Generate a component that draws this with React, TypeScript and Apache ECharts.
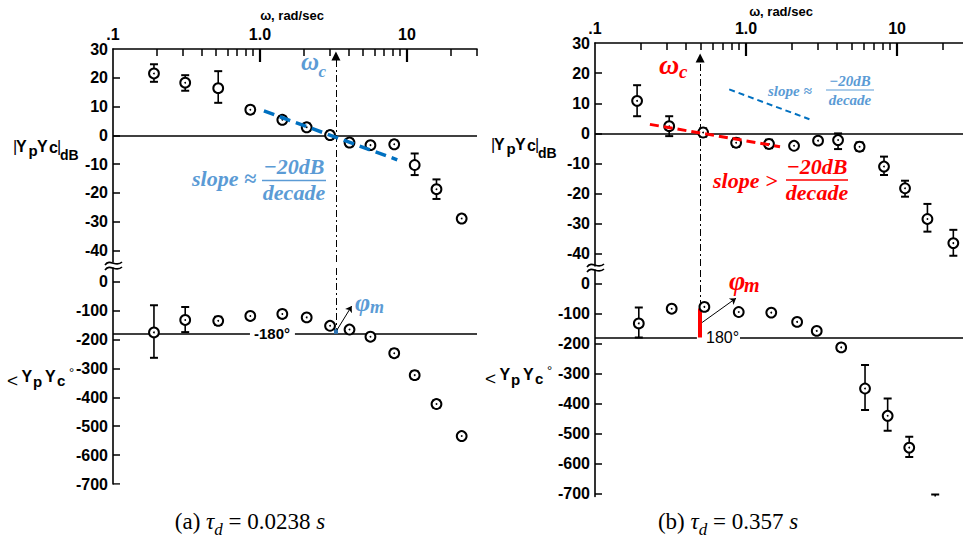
import React, { useEffect, useRef } from 'react';
import * as echarts from 'echarts';

// ---------------- data ----------------
// frequencies in rad/sec
const freq = [0.19, 0.31, 0.52, 0.86, 1.42, 2.08, 3.0, 4.07, 5.65, 8.2, 11.3, 15.9, 23.6];

// (a) tau_d = 0.0238 s
const magA = [21.5, 18.3, 16.4, 8.9, 5.4, 2.8, 0.1, -2.5, -3.4, -3.1, -10.3, -18.7, -28.9];
const magALo = [18.6, 15.5, 11.3, 7.6, 4.2, 1.5, -1.2, -3.8, -3.4, -4.4, -13.8, -22.1, -30.2];
const magAHi = [24.7, 20.9, 22.3, 10.2, 6.6, 4.1, 1.4, -1.2, -3.4, -1.8, -6.3, -15.3, -27.6];
const phaseA = [-175, -132, -135, -118, -111, -123, -152, -165, -190, -247, -323, -423, -534];
const phaseALo = [-263, -174, -149, -118, -123, -123, -152, -165, -190, -260, -336, -436, -534];
const phaseAHi = [-81, -87, -121, -118, -99, -123, -152, -165, -190, -234, -310, -410, -534];

// (b) tau_d = 0.357 s
const magB = [10.8, 2.4, 0.3, -3.1, -3.5, -4.1, -2.4, -2.2, -4.4, -11.0, -18.2, -28.4, -36.4];
const magBLo = [5.7, -0.9, -1.1, -4.5, -4.9, -4.1, -2.4, -5.2, -5.8, -13.8, -21.0, -32.6, -40.6];
const magBHi = [16.0, 5.7, 1.7, -1.7, -2.1, -4.1, -2.4, 0.0, -3.0, -7.7, -15.7, -23.4, -32.0];
const freqPhaseB = [0.195, 0.322, 0.53, 0.895, 1.47, 2.18, 2.94, 4.27, 6.14, 8.67, 12.05, 17.9];
const phaseB = [-133, -84, -78, -95, -97, -128, -158, -213, -350, -441, -547, -780];
const phaseBLo = [-180, -95, -89, -95, -97, -128, -158, -224, -422, -491, -578, -850];
const phaseBHi = [-80, -73, -67, -95, -97, -128, -158, -202, -272, -383, -511, -703];

// axes
const magTicks = [30, 20, 10, 0, -10, -20, -30, -40];
const phaseTicks = [0, -100, -200, -300, -400, -500, -600, -700];
const freqLabelValues = [0.1, 1, 10];
const freqLabels = ['.1', '1.0', '10'];
const freqMajor = [1, 10];
const freqMinor = [0.2, 0.3, 0.4, 0.5, 0.6, 0.7, 0.8, 0.9, 2, 3, 4, 5, 6, 7, 8, 9, 20, 30];

// annotations (data coordinates)
const omegaCA = 3.29;
const omegaCB = 0.497;
const slopeAFreq = [1.064, 8.6];
const slopeAMag = [8.5, -8.5];
const slopeBBlueFreq = [0.774, 2.63];
const slopeBBlueMag = [14.6, 4.7];
const slopeBRedFreq = [0.231, 1.68];
const slopeBRedMag = [3.0, -4.4];
const marginA = [-180, -162];
const marginB = [-180, -83];
const phiArrowAFreq = [3.34, 4.21];
const phiArrowAPhase = [-167, -84];
const phiArrowBFreq = [0.512, 0.859];
const phiArrowBPhase = [-130, -49];
const gapAFreq = [0.855, 1.73];
const gapBFreq = [0.473, 0.912];

// ---------------- helpers ----------------
const L = (v: number) => Math.log10(v);
const SANS = '"Liberation Sans", Arial, Helvetica, sans-serif';
const SERIF = '"Liberation Serif", "Times New Roman", serif';
const BLUE_TXT = '#5B9BD5';
const BLUE_LINE = '#0070C0';
const RED = '#FF0000';

const renderPoint = (params: any, api: any) => {
  const x = api.value(0);
  const y = api.value(1);
  const lo = api.value(2);
  const hi = api.value(3);
  const c = api.coord([x, y]);
  const cl = api.coord([x, lo]);
  const ch = api.coord([x, hi]);
  const children: any[] = [];
  if (Math.abs(cl[1] - ch[1]) > 0.5) {
    children.push({ type: 'line', shape: { x1: c[0], y1: ch[1], x2: c[0], y2: cl[1] }, style: { stroke: '#000', lineWidth: 1.6 } });
    children.push({ type: 'line', shape: { x1: c[0] - 4, y1: ch[1], x2: c[0] + 4, y2: ch[1] }, style: { stroke: '#000', lineWidth: 2 } });
    children.push({ type: 'line', shape: { x1: c[0] - 4, y1: cl[1], x2: c[0] + 4, y2: cl[1] }, style: { stroke: '#000', lineWidth: 2 } });
  }
  children.push({ type: 'circle', shape: { cx: c[0], cy: c[1], r: 4.9 }, style: { fill: '#fff', stroke: '#000', lineWidth: 2 } });
  children.push({ type: 'circle', shape: { cx: c[0], cy: c[1], r: 0.9 }, style: { fill: '#000' } });
  return { type: 'group', children };
};

const lineSeries = (idx: number, data: any[], lineStyle: any, symbol: any = ['none', 'none'], symbolSize: any = 8, z = 5) => ({
  type: 'lines',
  coordinateSystem: 'cartesian2d',
  xAxisIndex: idx,
  yAxisIndex: idx,
  polyline: false,
  silent: true,
  z,
  symbol,
  symbolSize,
  effect: { show: false },
  lineStyle: { opacity: 1, curveness: 0, ...lineStyle },
  data,
});
const seg = (fa: number, ya: number, fb: number, yb: number) => ({ coords: [[L(fa), ya], [L(fb), yb]] });

const pointSeries = (idx: number, f: number[], v: number[], lo: number[], hi: number[]) => ({
  type: 'custom',
  coordinateSystem: 'cartesian2d',
  xAxisIndex: idx,
  yAxisIndex: idx,
  clip: true,
  silent: true,
  z: 20,
  renderItem: renderPoint,
  encode: { x: 0, y: 1 },
  data: f.map((w, i) => [L(w), v[i], lo[i], hi[i]]),
});

interface PanelCfg {
  left: number;
  width: number;
  magTop: number;
  magHeight: number;
  magMin: number;
  magMax: number;
  phaseTop: number;
  phaseHeight: number;
  phaseMax: number;
  phaseMin: number;
  freqMax: number;
}

const axisFontLabel = { color: '#000', fontFamily: SANS, fontWeight: 'bold' as const, fontSize: 16 };

function buildPanel(p: PanelCfg, gi: number) {
  const xmax = L(p.freqMax);
  const grids = [
    { left: p.left, top: p.magTop, width: p.width, height: p.magHeight },
    { left: p.left, top: p.magTop, width: p.width, height: p.magHeight },
    { left: p.left, top: p.phaseTop, width: p.width, height: p.phaseHeight },
  ];
  const xAxes = [
    {
      gridIndex: gi, type: 'value', position: 'top', min: -1, max: xmax,
      axisLine: { show: true, onZero: false, lineStyle: { color: '#000', width: 1.6 } },
      axisTick: { show: false },
      axisLabel: { show: false }, splitLine: { show: false },
    },
    {
      gridIndex: gi + 1, type: 'value', position: 'top', min: -1, max: xmax,
      axisLine: { show: false, onZero: false },
      axisTick: { show: false },
      axisLabel: {
        show: true, customValues: freqLabelValues.map(L), margin: 7, ...axisFontLabel,
        formatter: (v: number) => {
          const i = freqLabelValues.findIndex((f) => Math.abs(L(f) - v) < 1e-6);
          return i >= 0 ? freqLabels[i] : '';
        },
      },
      splitLine: { show: false },
    },
    { gridIndex: gi + 2, type: 'value', min: -1, max: xmax, show: false },
  ];
  const yAxes = [
    {
      gridIndex: gi, type: 'value', min: p.magMin, max: p.magMax,
      axisLine: { show: true, onZero: false, lineStyle: { color: '#000', width: 1.6 } },
      axisTick: { show: false },
      axisLabel: { show: true, customValues: magTicks, margin: 5, ...axisFontLabel },
      splitLine: { show: false },
    },
    { gridIndex: gi + 1, type: 'value', min: p.magMin, max: p.magMax, show: false },
    {
      gridIndex: gi + 2, type: 'value', min: p.phaseMin, max: p.phaseMax,
      axisLine: { show: true, onZero: false, lineStyle: { color: '#000', width: 1.6 } },
      axisTick: { show: false },
      axisLabel: { show: true, customValues: phaseTicks, margin: 5, ...axisFontLabel },
      splitLine: { show: false },
    },
  ];

  // inside tick marks, placed through the axes' own scales
  const pxPerDecade = p.width / (xmax + 1);
  const pxPerDb = p.magHeight / (p.magMax - p.magMin);
  const yTickEnd = Math.pow(10, -1 + 7 / pxPerDecade);
  const tickSeries = [
    lineSeries(gi, freqMinor.filter((f) => f <= p.freqMax + 1e-9).map((f) => seg(f, p.magMax, f, p.magMax - 7 / pxPerDb)), { color: '#000', width: 1.5 }, ['none', 'none'], 8, 30),
    lineSeries(gi, freqMajor.map((f) => seg(f, p.magMax, f, p.magMax - 13 / pxPerDb)), { color: '#000', width: 2.2 }, ['none', 'none'], 8, 30),
    lineSeries(gi, magTicks.filter((v) => v < p.magMax).map((v) => seg(0.1, v, yTickEnd, v)), { color: '#000', width: 1.6 }, ['none', 'none'], 8, 30),
    lineSeries(gi + 2, phaseTicks.map((v) => seg(0.1, v, yTickEnd, v)), { color: '#000', width: 1.6 }, ['none', 'none'], 8, 30),
  ];
  return { grids, xAxes, yAxes, tickSeries };
}

const panelA: PanelCfg = { left: 113, width: 364, magTop: 49, magHeight: 213, magMin: -44, magMax: 30, phaseTop: 268, phaseHeight: 216, phaseMax: 48, phaseMin: -700, freqMax: 30 };
const panelB: PanelCfg = { left: 595, width: 368, magTop: 43, magHeight: 223, magMin: -44, magMax: 30, phaseTop: 270, phaseHeight: 226.5, phaseMax: 45, phaseMin: -710, freqMax: 27.35 };

type TOpt = { size: number; weight?: string; style?: string; family?: string; color?: string; align?: string };
const txt = (text: string, x: number, y: number, o: TOpt) => ({
  type: 'text', x, y, z: 100, silent: true,
  style: {
    text,
    fill: o.color || '#000',
    font: `${o.style || 'normal'} ${o.weight || 'normal'} ${o.size}px ${o.family || SANS}`,
    align: o.align || 'left', verticalAlign: 'middle',
    textAlign: o.align || 'left', textVerticalAlign: 'middle',
  },
});
const hline = (x1: number, x2: number, y: number, color: string, w = 1.5) => ({
  type: 'line', z: 100, silent: true, shape: { x1, y1: y, x2, y2: y }, style: { stroke: color, lineWidth: w },
});
const wave = (x: number, y: number) => ({
  type: 'bezierCurve', z: 100, silent: true,
  shape: { x1: x - 8, y1: y + 2, cpx1: x - 3, cpy1: y - 5, cpx2: x + 3, cpy2: y + 5, x2: x + 9, y2: y - 1 },
  style: { stroke: '#000', lineWidth: 1.6, fill: 'none' },
});

function titleGraphics(ox: number, dy: number) {
  const b = { weight: 'bold', family: SANS };
  return [
    txt('|', ox + 13, dy + 146, { size: 16 }),
    txt('Y', ox + 16, dy + 146, { size: 16, ...b }),
    txt('p', ox + 28.5, dy + 150, { size: 15, ...b }),
    txt('Y', ox + 37, dy + 146, { size: 16, ...b }),
    txt('c', ox + 49, dy + 147, { size: 16, ...b }),
    txt('|', ox + 57, dy + 146, { size: 16 }),
    txt('dB', ox + 60, dy + 155, { size: 14, ...b }),
    txt('<', ox + 7, dy + 380, { size: 19 }),
    txt('Y', ox + 21.5, dy + 376, { size: 16, ...b }),
    txt('p', ox + 33, dy + 381, { size: 15, ...b }),
    txt('Y', ox + 45, dy + 376, { size: 16, ...b }),
    txt('c', ox + 57, dy + 380, { size: 15, ...b }),
    txt('°', ox + 69, dy + 372, { size: 13 }),
  ];
}

const caption = (label: string, value: string, x: number, y: number) => ({
  type: 'text', x, y, z: 100, silent: true,
  style: {
    text: `{n|${label} }{i|τ}{s|d}{n| = ${value} }{i|s}`,
    align: 'center', verticalAlign: 'middle', textAlign: 'center', textVerticalAlign: 'middle',
    fill: '#000',
    rich: {
      n: { fontFamily: SERIF, fontSize: 23, fill: '#000', verticalAlign: 'top' },
      i: { fontFamily: SERIF, fontSize: 23, fontStyle: 'italic', fill: '#000', verticalAlign: 'top' },
      s: { fontFamily: SERIF, fontSize: 17, fontStyle: 'italic', fill: '#000', verticalAlign: 'top', padding: [11, 0, 0, 0] },
    },
  },
});

export default function App() {
  const ref = useRef<HTMLDivElement>(null);
  useEffect(() => {
    if (!ref.current) return;
    const chart = echarts.init(ref.current, null, { renderer: 'svg' });
    const A = buildPanel(panelA, 0);
    const B = buildPanel(panelB, 3);
    const dashDot = [7, 3, 2, 3];

    const series: any[] = [
      ...A.tickSeries,
      ...B.tickSeries,
      // ---- panel (a) ----
      lineSeries(0, [seg(0.1, 0, panelA.freqMax, 0)], { color: '#000', width: 1.6 }),
      lineSeries(0, [seg(slopeAFreq[0], slopeAMag[0], slopeAFreq[1], slopeAMag[1])], { color: BLUE_LINE, width: 3.5, type: [11, 6] }, ['none', 'none'], 8, 25),
      lineSeries(0, [seg(omegaCA, -44, omegaCA, 27.6)], { color: '#000', width: 1, type: dashDot }, ['none', 'triangle'], 9),
      lineSeries(2, [seg(omegaCA, 48, omegaCA, -178)], { color: '#000', width: 1, type: dashDot }),
      lineSeries(2, [seg(0.1, -180, gapAFreq[0], -180), seg(gapAFreq[1], -180, panelA.freqMax, -180)], { color: '#000', width: 1.5 }),
      lineSeries(2, [seg(omegaCA, marginA[0], omegaCA, marginA[1])], { color: '#2E75B6', width: 4 }, ['none', 'none'], 8, 15),
      lineSeries(2, [seg(phiArrowAFreq[0], phiArrowAPhase[0], phiArrowAFreq[1], phiArrowAPhase[1])], { color: '#000', width: 1 }, ['none', 'arrow'], 6, 25),
      pointSeries(0, freq, magA, magALo, magAHi),
      pointSeries(2, freq, phaseA, phaseALo, phaseAHi),
      // ---- panel (b) ----
      lineSeries(3, [seg(0.1, 0, panelB.freqMax, 0)], { color: '#000', width: 1.6 }),
      lineSeries(3, [seg(slopeBBlueFreq[0], slopeBBlueMag[0], slopeBBlueFreq[1], slopeBBlueMag[1])], { color: BLUE_LINE, width: 2, type: [6, 4] }),
      lineSeries(3, [seg(slopeBRedFreq[0], slopeBRedMag[0], slopeBRedFreq[1], slopeBRedMag[1])], { color: RED, width: 3, type: [9, 5] }, ['none', 'none'], 8, 25),
      lineSeries(3, [seg(omegaCB, -44, omegaCB, 25)], { color: '#000', width: 1, type: dashDot }, ['none', 'triangle'], 9),
      lineSeries(5, [seg(omegaCB, 45, omegaCB, -180)], { color: '#000', width: 1, type: dashDot }),
      lineSeries(5, [seg(0.1, -180, gapBFreq[0], -180), seg(gapBFreq[1], -180, panelB.freqMax, -180)], { color: '#000', width: 1.5 }),
      lineSeries(5, [seg(omegaCB, marginB[0], omegaCB, marginB[1])], { color: RED, width: 4 }, ['none', 'none'], 8, 15),
      lineSeries(5, [seg(phiArrowBFreq[0], phiArrowBPhase[0], phiArrowBFreq[1], phiArrowBPhase[1])], { color: '#000', width: 1 }, ['none', 'arrow'], 6, 25),
      pointSeries(3, freq, magB, magBLo, magBHi),
      pointSeries(5, freqPhaseB, phaseB, phaseBLo, phaseBHi),
    ];

    const bi = { weight: 'bold', style: 'italic', family: SERIF };
    const graphic: any[] = [
      // axis titles
      txt('ω, rad/sec', 292, 15, { size: 13, weight: 'bold', align: 'center' }),
      txt('ω, rad/sec', 781, 11, { size: 13, weight: 'bold', align: 'center' }),
      ...titleGraphics(0, 0),
      ...titleGraphics(478, -2),
      // axis breaks
      wave(113, 263), wave(113, 268), wave(595, 265), wave(595, 270),
      // panel (a) annotations
      txt('ω', 301, 61.5, { size: 25, ...bi, color: BLUE_TXT }),
      txt('c', 318.5, 71, { size: 17, ...bi, color: BLUE_TXT }),
      txt('slope ≈', 192, 178, { size: 22, ...bi, color: BLUE_TXT }),
      txt('−20dB', 294, 166, { size: 22, ...bi, color: BLUE_TXT, align: 'center' }),
      hline(262, 326, 180.5, BLUE_TXT, 1.5),
      txt('decade', 294, 192, { size: 22, ...bi, color: BLUE_TXT, align: 'center' }),
      txt('φ', 355, 302, { size: 26, ...bi, color: BLUE_TXT }),
      txt('m', 370, 307, { size: 18, ...bi, color: BLUE_TXT }),
      txt('-180°', 272, 333, { size: 15, weight: 'bold', align: 'center' }),
      // panel (b) annotations
      txt('ω', 659, 64, { size: 28, ...bi, color: RED }),
      txt('c', 679, 71, { size: 19, ...bi, color: RED }),
      txt('φ', 729, 280, { size: 28, ...bi, color: RED }),
      txt('m', 744, 285, { size: 20, ...bi, color: RED }),
      txt('180°', 706, 337, { size: 16 }),
      txt('slope ≈', 768, 91, { size: 15, ...bi, color: BLUE_TXT }),
      txt('−20dB', 850, 81, { size: 15, ...bi, color: BLUE_TXT, align: 'center' }),
      hline(826, 874, 90, BLUE_TXT, 1),
      txt('decade', 850, 100, { size: 15, ...bi, color: BLUE_TXT, align: 'center' }),
      txt('slope >', 713, 180, { size: 22, ...bi, color: RED }),
      txt('−20dB', 817, 166, { size: 22, ...bi, color: RED, align: 'center' }),
      hline(786, 848, 180, RED, 1.5),
      txt('decade', 817, 192, { size: 22, ...bi, color: RED, align: 'center' }),
      // captions
      caption('(a)', '0.0238', 250, 524),
      caption('(b)', '0.357', 728, 524),
    ];

    chart.setOption({
      animation: false,
      backgroundColor: '#fff',
      grid: [...A.grids, ...B.grids],
      xAxis: [...A.xAxes, ...B.xAxes],
      yAxis: [...A.yAxes, ...B.yAxes],
      series,
      graphic,
    });
    return () => chart.dispose();
  }, []);
  return <div ref={ref} style={{ position: 'absolute', left: 0, top: 0, width: 963, height: 544, background: '#fff' }} />;
}
